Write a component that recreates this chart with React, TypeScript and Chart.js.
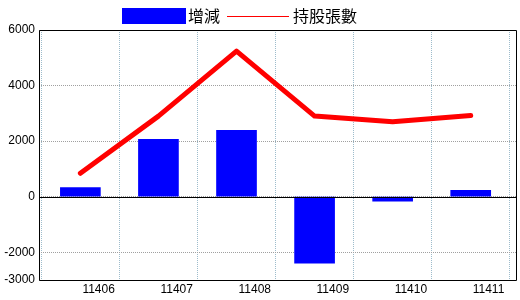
import React, { useEffect, useRef } from "react";
import { Chart, registerables } from "chart.js";

Chart.register(...registerables);

const categories = ["11406", "11407", "11408", "11409", "11410", "11411"];
const changeValues = [330, 2060, 2385, -2390, -160, 225];
const holdingValues = [840, 2900, 5240, 2900, 2700, 2925];
const yTicks = [6000, 4000, 2000, 0, -2000, -3000];
const barLabel = "增減";
const lineLabel = "持股張數";

const framePlugin = {
  id: "frameAndLegend",
  afterDatasetsDraw(chart: any) {
    const { ctx, chartArea } = chart;
    const y0 = chart.scales.y.getPixelForValue(0);
    ctx.save();
    ctx.strokeStyle = "#000";
    ctx.lineWidth = 1;
    ctx.setLineDash([]);
    ctx.beginPath();
    const l = Math.round(chartArea.left) + 0.5;
    const r = Math.round(chartArea.right) + 0.5;
    const t = Math.round(chartArea.top) + 0.5;
    const b = Math.round(chartArea.bottom) + 0.5;
    ctx.rect(l, t, r - l, b - t);
    ctx.moveTo(l, Math.round(y0) + 0.5);
    ctx.lineTo(r, Math.round(y0) + 0.5);
    ctx.stroke();
    ctx.restore();
  },
  afterDraw(chart: any) {
    const { ctx } = chart;
    ctx.save();
    ctx.fillStyle = "#0000ff";
    ctx.fillRect(122, 8, 64, 16);
    ctx.font = '16px "Noto Sans CJK TC"';
    ctx.fillStyle = "#000";
    ctx.textBaseline = "middle";
    ctx.textAlign = "left";
    ctx.fillText(barLabel, 188, 16);
    ctx.strokeStyle = "#ff0000";
    ctx.lineWidth = 1;
    ctx.beginPath();
    ctx.moveTo(227, 16.5);
    ctx.lineTo(289, 16.5);
    ctx.stroke();
    ctx.fillText(lineLabel, 293, 16);
    ctx.restore();
  },
};

export default function App() {
  const ref = useRef<HTMLCanvasElement | null>(null);
  useEffect(() => {
    document.body.style.margin = "0";
    if (!ref.current) return;
    const chart = new Chart(ref.current, {
      data: {
        datasets: [
          {
            type: "line",
            label: lineLabel,
            data: holdingValues.map((v, i) => ({ x: i, y: v })),
            borderColor: "#ff0000",
            backgroundColor: "#ff0000",
            borderWidth: 5,
            pointRadius: 0,
            tension: 0,
            borderCapStyle: "round",
            borderJoinStyle: "round",
            order: 0,
          },
          {
            type: "bar",
            label: barLabel,
            data: changeValues.map((v, i) => ({ x: i, y: v })),
            backgroundColor: "#0000ff",
            borderWidth: 0,
            barThickness: 40,
            order: 1,
          },
        ],
      } as any,
      options: {
        animation: false,
        responsive: false,
        maintainAspectRatio: false,
        layout: { padding: { top: 30, right: 4, left: 0, bottom: 0 } },
        plugins: { legend: { display: false }, tooltip: { enabled: false } },
        scales: {
          x: {
            type: "linear",
            min: -0.53,
            max: 5.58,
            offset: false,
            afterBuildTicks: (scale: any) => {
              scale.ticks = categories.map((_, i) => ({ value: i }));
            },
            afterFit: (scale: any) => {
              scale.height = 20;
            },
            ticks: {
              callback: (v: any) => categories[v as number] ?? "",
              align: "start",
              labelOffset: 2,
              padding: 2,
              maxRotation: 0,
              autoSkip: false,
              color: "#000",
              font: { family: '"Liberation Sans Narrow", "Liberation Sans"', size: 12 },
            },
            grid: { color: "#9dbccc", lineWidth: 1, drawTicks: false },
            border: { display: false, dash: [1, 1] },
          },
          y: {
            type: "linear",
            min: -3000,
            max: 6000,
            afterBuildTicks: (scale: any) => {
              scale.ticks = yTicks.map((v) => ({ value: v }));
            },
            afterFit: (scale: any) => {
              scale.width = 39;
            },
            ticks: {
              callback: (v: any) => String(v),
              padding: 4,
              color: "#000",
              font: { family: '"Liberation Sans Narrow", "Liberation Sans"', size: 12 },
            },
            grid: { color: "#a0a0a0", lineWidth: 1, drawTicks: false },
            border: { display: false, dash: [1, 1] },
          },
        },
      } as any,
      plugins: [framePlugin],
    });
    return () => chart.destroy();
  }, []);
  return (
    <div style={{ width: 520, height: 300 }}>
      <canvas ref={ref} width={520} height={300} style={{ display: "block" }} />
    </div>
  );
}
